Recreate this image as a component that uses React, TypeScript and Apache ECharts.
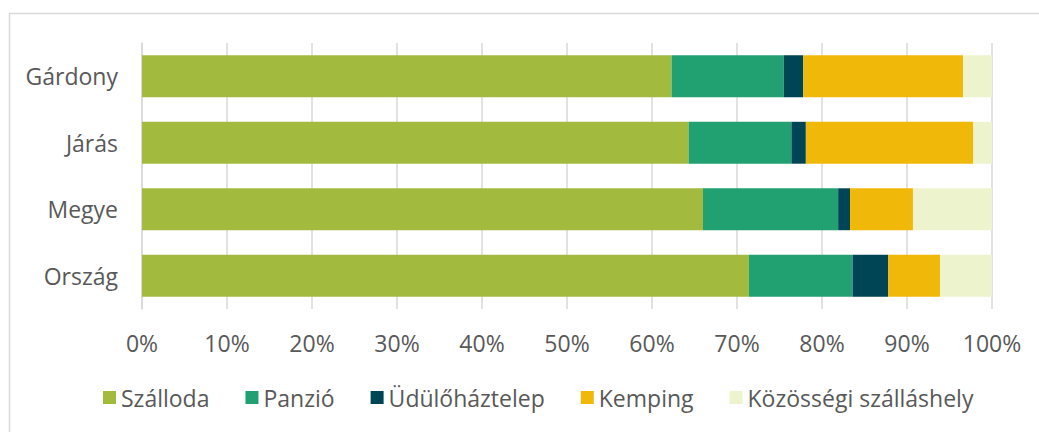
import React, { useEffect, useRef } from "react";
import * as echarts from "echarts";

const categories = ["Gárdony", "Járás", "Megye", "Ország"];
const seriesNames = ["Szálloda", "Panzió", "Üdülőháztelep", "Kemping", "Közösségi szálláshely"];
const szalloda = [62.3, 64.3, 66.0, 71.4];
const panzio = [13.2, 12.1, 15.9, 12.2];
const udulo = [2.3, 1.7, 1.4, 4.2];
const kemping = [18.8, 19.7, 7.4, 6.1];
const kozossegi = [3.4, 2.2, 9.3, 6.1];
const colors = ["#A2BB3E", "#21A071", "#004556", "#F0B808", "#EDF4CD"];

export default function App() {
  const ref = useRef<HTMLDivElement>(null);
  useEffect(() => {
    const chart = echarts.init(ref.current!, null, { renderer: "svg" });
    const values = [szalloda, panzio, udulo, kemping, kozossegi];
    const font = "'Open Sans', 'Noto Sans', sans-serif";
    chart.setOption({
      animation: false,
      color: colors,
      graphic: [
        {
          type: "rect",
          shape: { x: 9.5, y: 13.5, width: 1200, height: 600 },
          style: { fill: "none", stroke: "#D9D9D9", lineWidth: 1.5 },
          silent: true,
        },
      ],
      grid: { left: 142, right: 47, top: 43, bottom: 123, containLabel: false },
      legend: {
        top: 381,
        left: 98,
        itemWidth: 13,
        itemHeight: 13,
        itemGap: 36,
        icon: "rect",
        textStyle: { color: "#595959", fontSize: 23, fontFamily: font, padding: [0, 0, 0, 0] },
        data: seriesNames,
      },
      xAxis: {
        type: "value",
        min: 0,
        max: 100,
        interval: 10,
        axisLabel: {
          formatter: "{value}%",
          color: "#595959",
          fontSize: 23,
          fontFamily: font,
          margin: 22,
        },
        splitLine: { show: true, lineStyle: { color: "#D9D9D9", width: 1.5 } },
        axisLine: { show: false },
        axisTick: { show: false },
      },
      yAxis: {
        type: "category",
        data: categories,
        inverse: true,
        axisLabel: {
          color: "#595959",
          fontSize: 23,
          fontFamily: font,
          margin: 24,
        },
        axisLine: { show: true, lineStyle: { color: "#D9D9D9", width: 1.5 } },
        axisTick: { show: false },
      },
      series: seriesNames.map((name, i) => ({
        name,
        type: "bar",
        stack: "total",
        barCategoryGap: "37%",
        data: values[i],
        itemStyle: { color: colors[i] },
      })),
    });
    return () => chart.dispose();
  }, []);
  return (
    <div
      ref={ref}
      style={{ position: "fixed", left: 0, top: 0, width: 1039, height: 432, background: "#fff" }}
    />
  );
}
